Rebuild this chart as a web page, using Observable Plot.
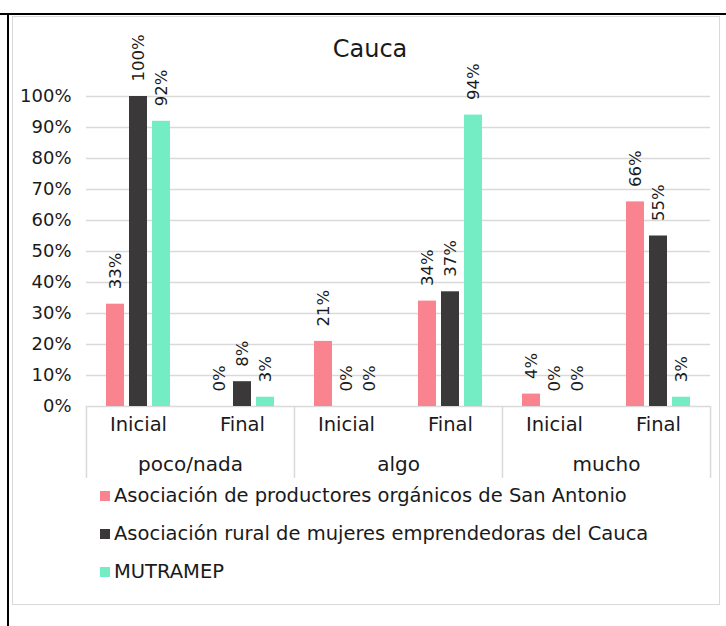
<!DOCTYPE html>
<html>
<head>
<meta charset="utf-8">
<script src="https://cdn.jsdelivr.net/npm/d3@7"></script>
<script src="https://cdn.jsdelivr.net/npm/@observablehq/plot@0.6"></script>
<style>
  html, body { margin: 0; padding: 0; background: #fff; }
  body { width: 726px; height: 626px; position: relative; overflow: hidden; font-family: "DejaVu Sans", sans-serif; color: #1a1a1a; }
  .hline { position: absolute; left: 0; top: 13px; width: 726px; height: 2px; background: #000; }
  .vline { position: absolute; left: 7px; top: 13px; width: 2px; height: 613px; background: #000; }
  .panel { position: absolute; left: 12px; top: 16px; width: 706px; height: 587px; border: 1.5px solid #d9d9d9; }
  .title { position: absolute; left: 0; width: 740px; top: 35px; text-align: center; font-size: 24px; }
  #chart { position: absolute; left: 0; top: 0; }
  .legend { position: absolute; left: 100px; top: 477px; font-size: 19.5px; }
  .legend .item { height: 38px; display: flex; align-items: center; line-height: 22px; white-space: nowrap; }
  .legend .item span.sw { display: inline-block; width: 10px; height: 10px; margin-right: 4px; }
</style>
</head>
<body>
<div class="hline"></div>
<div class="vline"></div>
<div class="panel"></div>
<div class="title">Cauca</div>
<div id="chart"></div>
<div class="legend" id="legend"></div>
<script>
// ---- data ----
const groups = ["poco/nada", "algo", "mucho"];
const phases = ["Inicial", "Final"];
const seriesNames = [
  "Asociación de productores orgánicos de San Antonio",
  "Asociación rural de mujeres emprendedoras del Cauca",
  "MUTRAMEP"
];
const seriesColors = ["#f9838f", "#3a3838", "#74ecc4"];
// values per series, in order: poco/nada Inicial, poco/nada Final, algo Inicial, algo Final, mucho Inicial, mucho Final
const sanAntonio = [0.33, 0.00, 0.21, 0.34, 0.04, 0.66];
const mujeresCauca = [1.00, 0.08, 0.00, 0.37, 0.00, 0.55];
const mutramep = [0.92, 0.03, 0.00, 0.94, 0.00, 0.03];
const yTicks = [0, 0.1, 0.2, 0.3, 0.4, 0.5, 0.6, 0.7, 0.8, 0.9, 1.0];

// ---- table ----
const seriesValues = [sanAntonio, mujeresCauca, mutramep];
const clusterKeys = [];
groups.forEach(g => phases.forEach(p => clusterKeys.push(g + "|" + p)));
const rows = [];
seriesNames.forEach((s, si) => {
  clusterKeys.forEach((k, ki) => {
    rows.push({cluster: k, series: s, value: seriesValues[si][ki]});
  });
});

// ---- layout ----
const W = 726, H = 490;
const mTop = 96, mBottom = 84, mLeft = 85, mRight = 16;
const padInner = 0.22, padOuter = 0.87;
const facetW = (W - mLeft - mRight) / clusterKeys.length;
const step = facetW / (seriesNames.length - padInner + 2 * padOuter);
const bw = step * (1 - padInner);
const edgeOffset = padOuter * step + bw / 2;
const plotH = H - mTop - mBottom;

const font = "'DejaVu Sans', sans-serif";
const pct = d3.format(".0%");

const leftSeps = groups.map(g => g + "|Inicial");
const lastKey = clusterKeys[clusterKeys.length - 1];

const chart = Plot.plot({
  width: W,
  height: H,
  marginTop: mTop,
  marginBottom: mBottom,
  marginLeft: mLeft,
  marginRight: mRight,
  style: {fontFamily: font, color: "#1a1a1a", background: "transparent"},
  fx: {domain: clusterKeys, padding: 0, axis: null},
  x: {domain: seriesNames, paddingInner: padInner, paddingOuter: padOuter, axis: null},
  y: {domain: [0, 1], axis: null},
  color: {domain: seriesNames, range: seriesColors},
  marks: [
    Plot.gridY(yTicks, {stroke: "#d9d9d9", strokeOpacity: 1, strokeWidth: 1.5}),
    Plot.axisY({ticks: yTicks, tickSize: 0, tickPadding: 15, fontSize: 18, tickFormat: pct, label: null}),
    Plot.axisFx({anchor: "bottom", tickSize: 0, tickPadding: 11, fontSize: 19.5, tickFormat: d => d.split("|")[1], label: null}),
    Plot.barY(rows, {fx: "cluster", x: "series", y: "value", fill: "series"}),
    Plot.text(rows, {
      fx: "cluster", x: "series", y: "value",
      text: d => pct(d.value),
      rotate: -90, textAnchor: "start", dy: -15, fontSize: 16.5, fill: "#1a1a1a"
    }),
    Plot.ruleX(leftSeps, {
      fx: d => d, x: () => seriesNames[0], dx: -edgeOffset,
      stroke: "#d9d9d9", strokeWidth: 1.5, insetTop: plotH, insetBottom: -72
    }),
    Plot.ruleX([lastKey], {
      fx: d => d, x: () => seriesNames[seriesNames.length - 1], dx: edgeOffset,
      stroke: "#d9d9d9", strokeWidth: 1.5, insetTop: plotH, insetBottom: -72
    }),
    Plot.text(groups, {
      fx: g => g + "|Inicial", text: d => d,
      frameAnchor: "bottom-right", textAnchor: "middle", lineAnchor: "middle",
      dy: 58, fontSize: 20, fill: "#1a1a1a"
    })
  ]
});
document.getElementById("chart").appendChild(chart);

// ---- legend ----
const legend = document.getElementById("legend");
seriesNames.forEach((s, i) => {
  const item = document.createElement("div");
  item.className = "item";
  const sw = document.createElement("span");
  sw.className = "sw";
  sw.style.background = seriesColors[i];
  item.appendChild(sw);
  item.appendChild(document.createTextNode(s));
  legend.appendChild(item);
});
</script>
</body>
</html>
